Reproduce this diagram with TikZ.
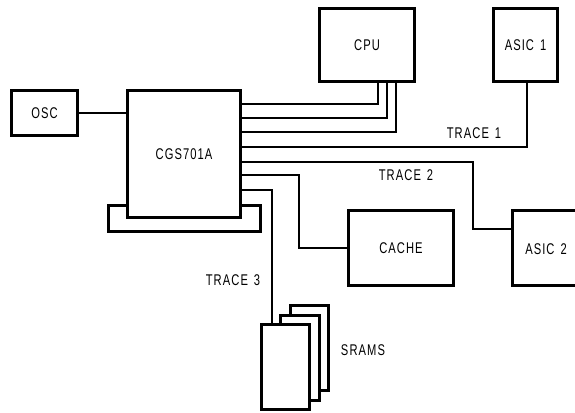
\documentclass[tikz,border=0pt]{standalone}
\usepackage{fontspec}
\setmainfont[FakeStretch=0.72,LetterSpace=7]{Liberation Sans}
\newcommand{\gapsp}{\hspace{6pt}}
\begin{document}
\begin{tikzpicture}[x=1pt,y=-1pt,
  box/.style={draw, line width=3.5pt, fill=white, inner sep=0pt, font=\fontsize{15.5}{15.5}\selectfont},
  wire/.style={line width=2.1pt},
  lbl/.style={inner sep=0pt, font=\fontsize{15.5}{15.5}\selectfont}]
\useasboundingbox (0,0) rectangle (575,412);
% U-shaped bracket under CGS701A
\draw[line width=3pt] (108.5,205.5) rectangle (260.5,231.5);
% boxes
\node[box, minimum width=66pt, minimum height=45pt] (osc) at (44.5,113) {OSC};
\node[box, minimum width=113pt, minimum height=127pt] (cgs) at (184,154) {CGS701A};
\node[box, minimum width=95pt, minimum height=73pt] (cpu) at (367,45) {CPU};
\node[box, minimum width=64pt, minimum height=73pt] (asic1) at (525.5,45) {ASIC\gapsp1};
\node[box, minimum width=105pt, minimum height=75pt] (cache) at (401,248) {CACHE};
\node[box, minimum width=100pt, minimum height=75pt] (asic2) at (562.5,248) {};
\node[lbl] (asic2t) at (546,249) {ASIC\gapsp2};
% SRAM stack
\node[box, minimum width=38pt, minimum height=85pt] (sram3) at (309.5,348) {};
\node[box, minimum width=39pt, minimum height=85pt] (sram2) at (300,358) {};
\node[box, minimum width=48pt, minimum height=85pt] (sram1) at (285.5,367) {};
% connectors
\draw[wire] (osc.east) -- (cgs.west |- osc.east);
\draw[wire] (cgs.east |- 0,104) -| (cpu.south -| 378,0);
\draw[wire] (cgs.east |- 0,118) -| (cpu.south -| 387,0);
\draw[wire] (cgs.east |- 0,132) -| (cpu.south -| 396,0);
\draw[wire] (cgs.east |- 0,147) -| (asic1.south -| 527,0);
\draw[wire] (cgs.east |- 0,162) -| (473,195) |- (asic2.west |- 0,229);
\draw[wire] (cgs.east |- 0,175) -| (299,210) |- (cache.west);
\draw[wire] (cgs.east |- 0,190) -| (sram1.north -| 272,0);
% labels
\node[lbl] (t1) at (474,133) {TRACE\gapsp1};
\node[lbl] (t2) at (406,175) {TRACE\gapsp2};
\node[lbl] (t3) at (233,280) {TRACE\gapsp3};
\node[lbl] (srams) at (363,350) {SRAMS};
\end{tikzpicture}
\end{document}
